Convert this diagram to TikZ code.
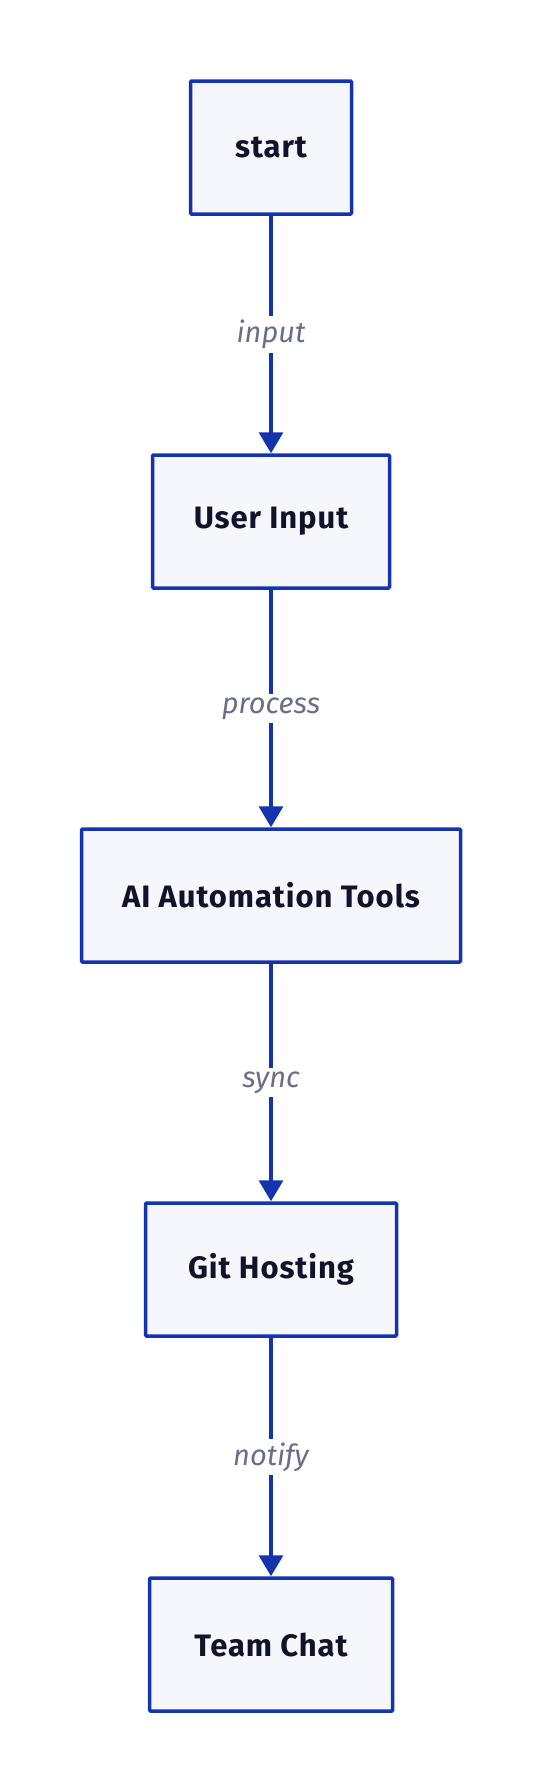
\documentclass[tikz,border=0pt]{standalone}
\usepackage{fontspec}
\setmainfont{Fira Sans}
\usetikzlibrary{arrows.meta}
\definecolor{edgeblue}{HTML}{1434AE}
\definecolor{boxfill}{HTML}{F5F7FC}
\definecolor{boxtext}{HTML}{10132A}
\definecolor{labelgray}{HTML}{6A6E86}
\begin{document}
\begin{tikzpicture}[x=1pt,y=-1pt,
    box/.style={draw=edgeblue,fill=boxfill,line width=3.5pt,minimum height=133pt,
      text=boxtext,font=\fontsize{31}{36}\selectfont\bfseries\addfontfeatures{LetterSpace=3},rounded corners=1pt},
    flow/.style={draw=edgeblue,line width=3.5pt,-{Triangle[length=21pt,width=24pt]}},
    lbl/.style={fill=white,text=labelgray,font=\fontsize{29}{34}\selectfont\itshape,inner sep=4pt}]
    \useasboundingbox (0,0) rectangle (542,1792);
    \node[box,minimum width=161pt] at (271, 147.5)  (start) {start};
    \node[box,minimum width=237pt] at (271, 521.5)  (input) {User Input};
    \node[box,minimum width=379pt] at (271, 895.5)  (tools) {AI Automation Tools};
    \node[box,minimum width=251pt] at (271, 1269.5) (git)   {Git Hosting};
    \node[box,minimum width=243pt] at (271, 1644.5) (chat)  {Team Chat};

    \draw[flow] (start) -- node[lbl] {input}   (input);
    \draw[flow] (input) -- node[lbl] {process} (tools);
    \draw[flow] (tools) -- node[lbl] {sync}    (git);
    \draw[flow] (git)   -- node[lbl] {notify}  (chat);
\end{tikzpicture}
\end{document}
